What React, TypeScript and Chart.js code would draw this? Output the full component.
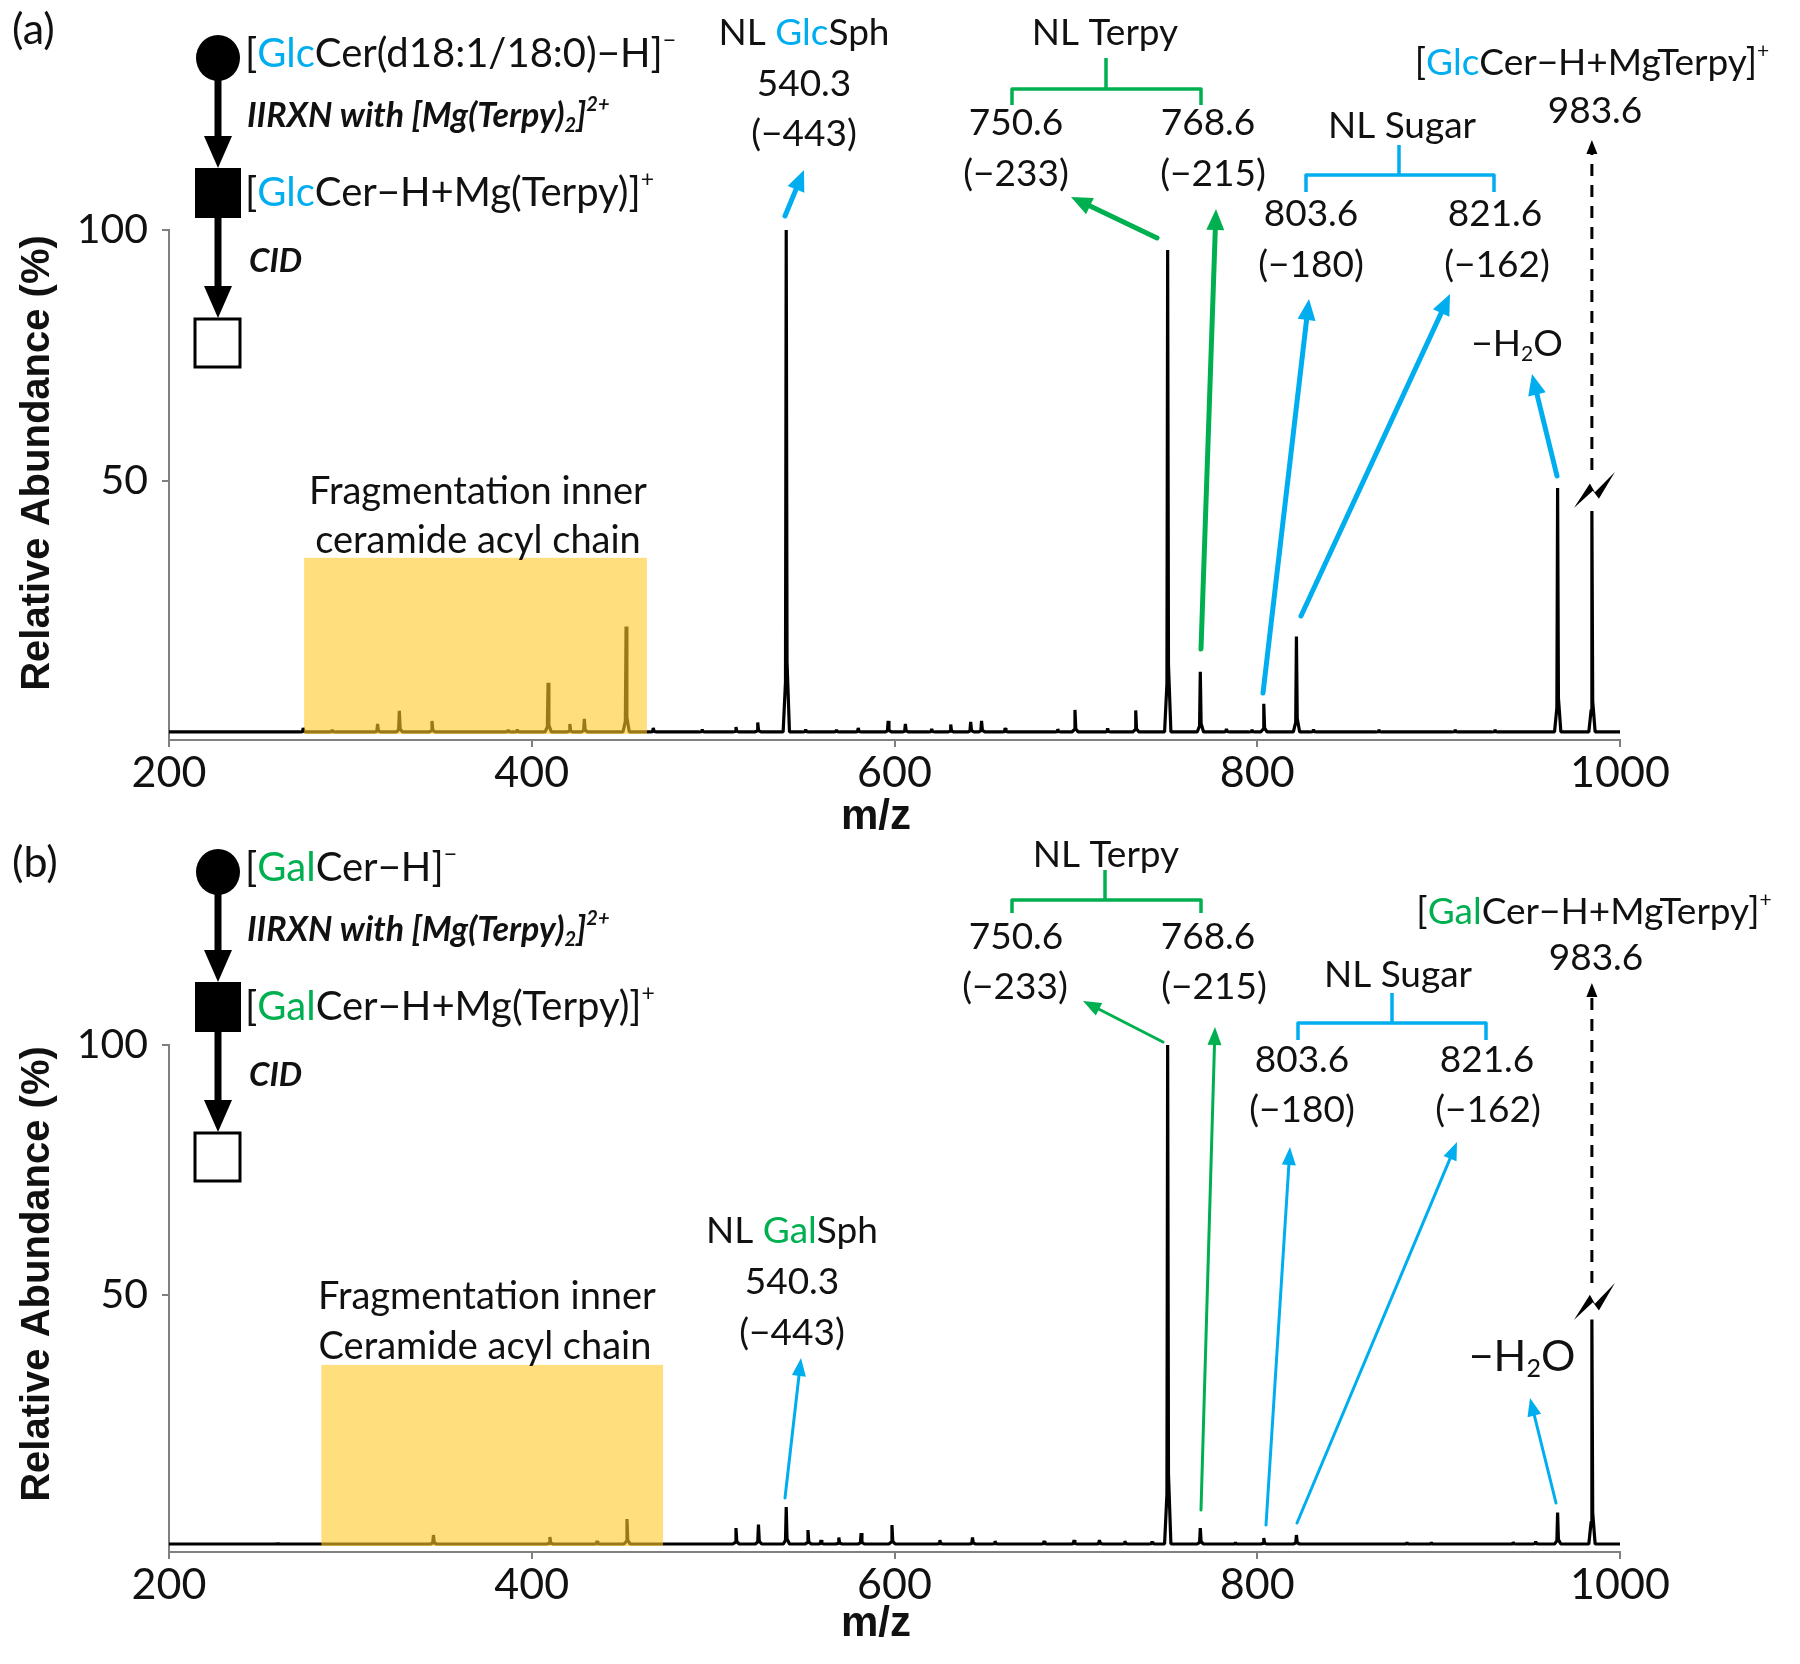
import React, { useEffect, useRef } from "react";
import { Chart, registerables } from "chart.js";

Chart.register(...registerables);

const CYAN = "#00AEEF";
const GREEN = "#00B050";
const INK = "#111";
const FONT = "Lato, 'Open Sans', 'DejaVu Sans', sans-serif";
const BOLD_FONT = "'Liberation Sans', Arial, sans-serif";

// ---------- data ----------
const X_TICKS = [200, 400, 600, 800, 1000];
const Y_TICKS = [50, 100];
const Y_MIN = -1.6;
const Y_MAX = 100;

// Panel (a): GlcCer spectrum
const MZ_A = [274, 290, 315, 327, 345, 387, 392, 409, 421, 429, 452, 467, 494, 512.6, 524.6, 540.3, 551, 568, 580, 596.5, 606, 620.5, 631, 642, 648, 661, 690, 699.5, 717.5, 733, 750.6, 768.6, 783, 797, 803.6, 821.6, 831, 867, 909, 931, 965.6, 984.5];
const INT_A = [0.8, 0.4, 1.6, 4.2, 2.2, 0.4, 0.5, 9.8, 1.6, 2.6, 21, 0.8, 0.5, 1.0, 1.9, 100, 0.5, 0.4, 0.8, 2.2, 1.6, 0.6, 1.5, 2.0, 2.2, 0.8, 0.6, 4.4, 0.7, 4.3, 96, 12, 0.6, 0.5, 5.6, 19, 0.5, 0.5, 0.5, 0.5, 48.6, 44];

// Panel (b): GalCer spectrum
const MZ_B = [260, 345.8, 410, 436, 452.5, 512.6, 525, 540.3, 552.3, 559.5, 569.3, 581.6, 598.6, 625, 643, 655.4, 682.5, 699, 713, 727, 742, 750.6, 768.6, 788, 803.6, 821.6, 882.6, 896, 941, 953.5, 965.6, 984.5];
const INT_B = [0.2, 1.8, 1.4, 0.6, 5, 3.2, 3.9, 7.4, 2.8, 0.8, 1.3, 2.2, 3.8, 0.8, 1.3, 0.6, 0.6, 0.8, 0.8, 0.6, 0.5, 100, 3.2, 0.3, 1.2, 1.8, 0.3, 0.3, 0.4, 0.5, 6.3, 45];

// highlighted region [from m/z, to m/z, height %]
const ORANGE_A = [274.5, 463.5, 34.7];
const ORANGE_B = [284, 472.4, 35.9];
const BROKEN_PEAK_MZ = 984.5;

// ---------- helpers ----------
type Seg = { t: string; c?: string; sup?: boolean; sub?: boolean };
type TextItem = { segs: Seg[]; x: number; y: number; size?: number; align?: "left" | "center" | "right"; weight?: string; style?: string };
type ArrowItem = { from: [number, number]; to: [number, number]; c: string };
type Bracket = { x1: number; x2: number; yH: number; yBot: number; xs: number; yTop: number; c: string };

const S = (t: string): Seg[] => [{ t }];

function drawRich(ctx: CanvasRenderingContext2D, item: TextItem) {
  const size = item.size ?? 37;
  const weight = item.weight ?? "normal";
  const style = item.style ?? "normal";
  const fontFor = (s: Seg) => `${style} ${weight} ${s.sup || s.sub ? Math.round(size * 0.58) : size}px ${FONT}`;
  let total = 0;
  const widths = item.segs.map((s) => {
    ctx.font = fontFor(s);
    const w = ctx.measureText(s.t).width;
    total += w;
    return w;
  });
  let x = item.align === "left" ? item.x : item.align === "right" ? item.x - total : item.x - total / 2;
  ctx.textAlign = "left";
  ctx.textBaseline = "middle";
  item.segs.forEach((s, i) => {
    ctx.font = fontFor(s);
    ctx.fillStyle = s.c ?? INK;
    const dy = s.sup ? -size * 0.33 : s.sub ? size * 0.27 : 0;
    ctx.fillText(s.t, x, item.y + dy);
    x += widths[i];
  });
}

function drawArrow(ctx: CanvasRenderingContext2D, x1: number, y1: number, x2: number, y2: number, color: string, lw: number, hl: number, hw: number, dash?: number[]) {
  const dx = x2 - x1, dy = y2 - y1;
  const len = Math.hypot(dx, dy);
  const ux = dx / len, uy = dy / len;
  const bx = x2 - ux * hl, by = y2 - uy * hl;
  ctx.save();
  ctx.strokeStyle = color;
  ctx.fillStyle = color;
  ctx.lineWidth = lw;
  ctx.lineCap = dash ? "butt" : "round";
  if (dash) ctx.setLineDash(dash);
  ctx.beginPath();
  ctx.moveTo(x1, y1);
  ctx.lineTo(x2 - ux * hl * 0.7, y2 - uy * hl * 0.7);
  ctx.stroke();
  ctx.setLineDash([]);
  ctx.beginPath();
  ctx.moveTo(x2, y2);
  ctx.lineTo(bx - (uy * hw) / 2, by + (ux * hw) / 2);
  ctx.lineTo(bx + (uy * hw) / 2, by - (ux * hw) / 2);
  ctx.closePath();
  ctx.fill();
  ctx.restore();
}

function drawBracket(ctx: CanvasRenderingContext2D, b: Bracket) {
  ctx.save();
  ctx.strokeStyle = b.c;
  ctx.lineWidth = 3.5;
  ctx.lineJoin = "round";
  ctx.lineCap = "butt";
  ctx.beginPath();
  ctx.moveTo(b.x1, b.yBot);
  ctx.lineTo(b.x1, b.yH);
  ctx.lineTo(b.x2, b.yH);
  ctx.lineTo(b.x2, b.yBot);
  ctx.moveTo(b.xs, b.yH);
  ctx.lineTo(b.xs, b.yTop);
  ctx.stroke();
  ctx.restore();
}

function buildPoints(mz: number[], ints: number[]) {
  const pts: { x: number; y: number }[] = [{ x: 200, y: 0 }];
  const order = mz.map((m, i) => i).sort((a, b) => mz[a] - mz[b]);
  order.forEach((i) => {
    const m = mz[i], h = ints[i];
    pts.push({ x: m - 1.7, y: 0 });
    pts.push({ x: m - 0.4, y: h * 0.1 });
    pts.push({ x: m, y: h });
    pts.push({ x: m + 0.45, y: h * 0.14 });
    pts.push({ x: m + 1.8, y: 0 });
  });
  pts.push({ x: 1000, y: 0 });
  return pts;
}

// ---------- panel layouts ----------
function schemeTexts(sugar: string, color: string, first: Seg[]): TextItem[] {
  return [
    { segs: first, x: 245, y: 54, align: "left", size: 40 },
    { segs: [{ t: "IIRXN with [Mg(Terpy)" }, { t: "2", sub: true }, { t: "]" }, { t: "2+", sup: true }], x: 247, y: 116, align: "left", size: 34, weight: "bold", style: "italic" },
    { segs: [{ t: "[" }, { t: sugar, c: color }, { t: "Cer−H+Mg(Terpy)]" }, { t: "+", sup: true }], x: 245, y: 193, align: "left", size: 40 },
    { segs: S("CID"), x: 249, y: 261, align: "left", size: 33, weight: "bold", style: "italic" },
  ];
}

const PANEL_A = {
  height: 832,
  canvasTop: 0,
  top: 230,
  bottom: 740,
  label: "(a)",
  labelY: 30,
  yTitleY: 463,
  xTitleY: 817,
  mz: MZ_A,
  ints: INT_A,
  orange: ORANGE_A,
  arrowW: [5, 21, 18],
  dashed: [470, 140],
  breakY: [472, 508],
  texts: [
    ...schemeTexts("Glc", CYAN, [{ t: "[" }, { t: "Glc", c: CYAN }, { t: "Cer(d18:1/18:0)−H]" }, { t: "−", sup: true }]),
    { segs: [{ t: "NL " }, { t: "Glc", c: CYAN }, { t: "Sph" }], x: 804, y: 33 },
    { segs: S("540.3"), x: 804, y: 84 },
    { segs: S("(−443)"), x: 804, y: 134 },
    { segs: S("NL Terpy"), x: 1105, y: 33 },
    { segs: S("750.6"), x: 1016, y: 123 },
    { segs: S("(−233)"), x: 1016, y: 174 },
    { segs: S("768.6"), x: 1208, y: 123 },
    { segs: S("(−215)"), x: 1213, y: 174 },
    { segs: S("NL Sugar"), x: 1402, y: 126 },
    { segs: S("803.6"), x: 1311, y: 214 },
    { segs: S("(−180)"), x: 1311, y: 265 },
    { segs: S("821.6"), x: 1495, y: 214 },
    { segs: S("(−162)"), x: 1497, y: 265 },
    { segs: [{ t: "−H" }, { t: "2", sub: true }, { t: "O" }], x: 1517, y: 344 },
    { segs: [{ t: "[" }, { t: "Glc", c: CYAN }, { t: "Cer−H+MgTerpy]" }, { t: "+", sup: true }], x: 1592, y: 63 },
    { segs: S("983.6"), x: 1595, y: 111 },
    { segs: S("Fragmentation inner"), x: 478, y: 492, size: 38 },
    { segs: S("ceramide acyl chain"), x: 478, y: 541, size: 38 },
  ] as TextItem[],
  arrows: [
    { from: [785, 216], to: [804, 170], c: CYAN },
    { from: [1157, 238], to: [1071, 197], c: GREEN },
    { from: [1201, 649], to: [1216, 209], c: GREEN },
    { from: [1263, 693], to: [1309, 299], c: CYAN },
    { from: [1301, 616], to: [1450, 294], c: CYAN },
    { from: [1557, 476], to: [1532, 374], c: CYAN },
  ] as ArrowItem[],
  brackets: [
    { x1: 1012, x2: 1201, yH: 89, yBot: 105, xs: 1106, yTop: 58, c: GREEN },
    { x1: 1306, x2: 1494, yH: 175, yBot: 192, xs: 1399, yTop: 145, c: CYAN },
  ] as Bracket[],
};

const PANEL_B = {
  height: 850,
  canvasTop: 814,
  top: 231,
  bottom: 738,
  label: "(b)",
  labelY: 49,
  yTitleY: 460,
  xTitleY: 810,
  mz: MZ_B,
  ints: INT_B,
  orange: ORANGE_B,
  arrowW: [3, 18, 14],
  dashed: [469, 169],
  breakY: [469, 506],
  texts: [
    ...schemeTexts("Gal", GREEN, [{ t: "[" }, { t: "Gal", c: GREEN }, { t: "Cer−H]" }, { t: "−", sup: true }]),
    { segs: [{ t: "NL " }, { t: "Gal", c: GREEN }, { t: "Sph" }], x: 792, y: 417 },
    { segs: S("540.3"), x: 792, y: 468 },
    { segs: S("(−443)"), x: 792, y: 519 },
    { segs: S("NL Terpy"), x: 1106, y: 41 },
    { segs: S("750.6"), x: 1016, y: 123 },
    { segs: S("(−233)"), x: 1015, y: 173 },
    { segs: S("768.6"), x: 1208, y: 123 },
    { segs: S("(−215)"), x: 1214, y: 173 },
    { segs: S("NL Sugar"), x: 1398, y: 161 },
    { segs: S("803.6"), x: 1302, y: 246 },
    { segs: S("(−180)"), x: 1302, y: 296 },
    { segs: S("821.6"), x: 1487, y: 246 },
    { segs: S("(−162)"), x: 1488, y: 296 },
    { segs: [{ t: "−H" }, { t: "2", sub: true }, { t: "O" }], x: 1522, y: 543, size: 43 },
    { segs: [{ t: "[" }, { t: "Gal", c: GREEN }, { t: "Cer−H+MgTerpy]" }, { t: "+", sup: true }], x: 1594, y: 98 },
    { segs: S("983.6"), x: 1596, y: 144 },
    { segs: S("Fragmentation inner"), x: 487, y: 483, size: 38 },
    { segs: S("Ceramide acyl chain"), x: 485, y: 533, size: 38 },
  ] as TextItem[],
  arrows: [
    { from: [785, 684], to: [801, 544], c: CYAN },
    { from: [1163, 228], to: [1083, 187], c: GREEN },
    { from: [1201, 696], to: [1215, 213], c: GREEN },
    { from: [1266, 711], to: [1290, 333], c: CYAN },
    { from: [1297, 709], to: [1457, 328], c: CYAN },
    { from: [1556, 689], to: [1530, 584], c: CYAN },
  ] as ArrowItem[],
  brackets: [
    { x1: 1012, x2: 1201, yH: 86, yBot: 99, xs: 1105, yTop: 56, c: GREEN },
    { x1: 1298, x2: 1486, yH: 209, yBot: 226, xs: 1392, yTop: 179, c: CYAN },
  ] as Bracket[],
};

type Panel = typeof PANEL_A;

function drawScheme(ctx: CanvasRenderingContext2D) {
  ctx.save();
  ctx.fillStyle = "#000";
  ctx.beginPath();
  ctx.ellipse(218, 58, 22, 23, 0, 0, Math.PI * 2);
  ctx.fill();
  drawArrow(ctx, 218, 78, 218, 168, "#000", 7, 32, 28);
  ctx.fillRect(195, 168, 46, 50);
  drawArrow(ctx, 218, 216, 218, 318, "#000", 7, 32, 28);
  ctx.fillStyle = "#fff";
  ctx.fillRect(195, 319, 45, 48);
  ctx.strokeStyle = "#000";
  ctx.lineWidth = 3;
  ctx.strokeRect(195, 319, 45, 48);
  ctx.restore();
}

function annotationPlugin(p: Panel) {
  return {
    id: "annot",
    afterDatasetsDraw(chart: any) {
      const ctx: CanvasRenderingContext2D = chart.ctx;
      const xs = chart.scales.x, ys = chart.scales.y;
      const [from, to, h] = p.orange;
      const x1 = xs.getPixelForValue(from), x2 = xs.getPixelForValue(to);
      const y1 = ys.getPixelForValue(h), y2 = ys.getPixelForValue(0) + 2;
      ctx.save();
      ctx.fillStyle = "rgba(255, 200, 40, 0.6)";
      ctx.fillRect(x1, y1, x2 - x1, y2 - y1);
      ctx.restore();
    },
    afterDraw(chart: any) {
      const ctx: CanvasRenderingContext2D = chart.ctx;
      const xs = chart.scales.x;
      ctx.save();
      // panel label
      ctx.font = `43px ${FONT}`;
      ctx.fillStyle = INK;
      ctx.textAlign = "left";
      ctx.textBaseline = "middle";
      ctx.fillText(p.label, 12, p.labelY);
      // axis titles
      ctx.font = `bold 40px ${BOLD_FONT}`;
      ctx.textAlign = "center";
      ctx.save();
      ctx.translate(38, p.yTitleY);
      ctx.rotate(-Math.PI / 2);
      ctx.fillText("Relative Abundance (%)", 0, 0);
      ctx.restore();
      ctx.font = `bold 42px ${BOLD_FONT}`;
      ctx.fillText("m/z", 876, p.xTitleY);
      // scheme
      drawScheme(ctx);
      // texts
      p.texts.forEach((t) => drawRich(ctx, t));
      // brackets
      p.brackets.forEach((b) => drawBracket(ctx, b));
      // arrows
      const [lw, hl, hw] = p.arrowW;
      p.arrows.forEach((a) => drawArrow(ctx, a.from[0], a.from[1], a.to[0], a.to[1], a.c, lw, hl, hw));
      // broken peak: dashed arrow + break mark
      const xp = xs.getPixelForValue(BROKEN_PEAK_MZ);
      drawArrow(ctx, xp, p.dashed[0], xp, p.dashed[1], "#000", 3, 14, 11, [12, 9]);
      const [yt, yb] = p.breakY;
      const hgt = yb - yt;
      ctx.fillStyle = "#000";
      ctx.beginPath();
      ctx.moveTo(xp - 18, yb);
      ctx.lineTo(xp - 2, yt + hgt * 0.32);
      ctx.lineTo(xp + 3, yt + hgt * 0.56);
      ctx.lineTo(xp + 23, yt);
      ctx.lineTo(xp + 7, yt + hgt * 0.74);
      ctx.lineTo(xp + 1, yt + hgt * 0.52);
      ctx.closePath();
      ctx.fill();
      ctx.restore();
    },
  };
}

function SpectrumPanel({ p }: { p: Panel }) {
  const ref = useRef<HTMLCanvasElement>(null);
  useEffect(() => {
    if (!ref.current) return;
    const chart = new Chart(ref.current, {
      type: "scatter",
      data: {
        datasets: [
          {
            data: buildPoints(p.mz, p.ints),
            showLine: true,
            borderColor: "#000",
            borderWidth: 3.2,
            borderJoinStyle: "bevel",
            pointRadius: 0,
            tension: 0,
            fill: false,
          } as any,
        ],
      },
      options: {
        responsive: false,
        animation: false,
        events: [],
        layout: { padding: { top: p.top, right: 180, left: 0, bottom: 0 } },
        plugins: { legend: { display: false }, tooltip: { enabled: false }, title: { display: false } },
        scales: {
          x: {
            type: "linear",
            min: 200,
            max: 1000,
            afterBuildTicks: (s: any) => {
              s.ticks = X_TICKS.map((v) => ({ value: v }));
            },
            afterFit: (s: any) => {
              s.height = p.height - p.bottom;
            },
            ticks: {
              font: { family: FONT, size: 43 },
              color: INK,
              padding: 0,
              maxRotation: 0,
              callback: (v: any) => String(v),
            },
            grid: { drawOnChartArea: false, drawTicks: true, tickLength: 7, color: "#808080", lineWidth: 2 },
            border: { display: true, color: "#808080", width: 2 },
          },
          y: {
            type: "linear",
            min: Y_MIN,
            max: Y_MAX,
            afterBuildTicks: (s: any) => {
              s.ticks = Y_TICKS.map((v) => ({ value: v }));
            },
            afterFit: (s: any) => {
              s.width = 169;
            },
            ticks: {
              font: { family: FONT, size: 41 },
              color: INK,
              padding: 14,
              callback: (v: any) => String(v),
            },
            grid: { drawOnChartArea: false, drawTicks: true, tickLength: 7, color: "#808080", lineWidth: 2 },
            border: { display: true, color: "#808080", width: 2 },
          },
        },
      } as any,
      plugins: [annotationPlugin(p)],
    });
    return () => chart.destroy();
  }, [p]);
  return (
    <canvas
      ref={ref}
      width={1800}
      height={p.height}
      style={{ position: "absolute", left: 0, top: p.canvasTop, width: 1800, height: p.height }}
    />
  );
}

export default function App() {
  return (
    <div style={{ position: "absolute", left: 0, top: 0, width: 1800, height: 1664, background: "#fff" }}>
      <SpectrumPanel p={PANEL_A} />
      <SpectrumPanel p={PANEL_B} />
    </div>
  );
}
